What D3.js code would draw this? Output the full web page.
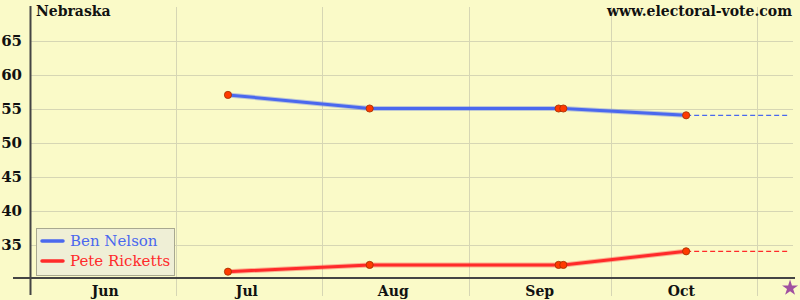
<!DOCTYPE html>
<html>
<head>
<meta charset="utf-8">
<script src="https://cdn.jsdelivr.net/npm/d3@7"></script>
<style>
  body { margin: 0; background: #fafac8; }
  svg { display: block; }
  svg text { font-family: "DejaVu Serif", "Liberation Serif", serif; }
</style>
</head>
<body>
<script>
// poll data, Nebraska senate race
var pollDates = ["2006-07-12", "2006-08-11", "2006-09-20", "2006-09-21", "2006-10-17"];
var nelson    = [57, 55, 55, 55, 54];
var ricketts  = [31, 32, 32, 32, 34];
var candidates = ["Ben Nelson", "Pete Ricketts"];
var electionDay = "2006-11-08";
var monthLabels = ["Jun", "Jul", "Aug", "Sep", "Oct"];
var labelDates  = ["2006-06-16", "2006-07-16", "2006-08-16", "2006-09-16", "2006-10-16"];
var gridDates   = ["2006-07-01", "2006-08-01", "2006-09-01", "2006-10-01", "2006-11-01"];
var yTicks = [35, 40, 45, 50, 55, 60, 65];

var width = 800, height = 300;
var parse = d3.utcParse("%Y-%m-%d");

var svg = d3.select("body").append("svg")
    .attr("width", width)
    .attr("height", height);

svg.append("rect").attr("width", width).attr("height", height).attr("fill", "#fafac8");

// scales (hand tuned to the picture)
var x = d3.scaleUtc()
    .domain([parse("2006-07-01"), parse("2006-11-01")])
    .range([176, 757]);
var y = d3.scaleLinear().domain([30, 65]).range([278.5, 40.5]);

// grid
svg.append("g").selectAll("line").data(yTicks).join("line")
    .attr("x1", 30).attr("x2", 793)
    .attr("y1", d => Math.round(y(d)) + 0.5).attr("y2", d => Math.round(y(d)) + 0.5)
    .attr("stroke", "#d6d6b4").attr("stroke-width", 1);

svg.append("g").selectAll("line").data(gridDates).join("line")
    .attr("x1", d => Math.round(x(parse(d))) + 0.5).attr("x2", d => Math.round(x(parse(d))) + 0.5)
    .attr("y1", 7).attr("y2", 296)
    .attr("stroke", "#d6d6b4").attr("stroke-width", 1);

// axes
svg.append("line").attr("x1", 30.5).attr("x2", 30.5).attr("y1", 6).attr("y2", 295)
    .attr("stroke", "#444").attr("stroke-width", 2);
svg.append("line").attr("x1", 13).attr("x2", 795).attr("y1", y(30) - 0.5).attr("y2", y(30) - 0.5)
    .attr("stroke", "#444").attr("stroke-width", 2);

svg.append("g").selectAll("text").data(yTicks).join("text")
    .attr("x", 22).attr("y", d => y(d) + 5)
    .attr("text-anchor", "end")
    .attr("font-size", 15).attr("font-weight", "bold").attr("fill", "#111")
    .text(d => d);

svg.append("g").selectAll("text").data(monthLabels).join("text")
    .attr("x", (d, i) => x(parse(labelDates[i])))
    .attr("y", 296)
    .attr("text-anchor", "middle")
    .attr("font-size", 14).attr("font-weight", "bold").attr("fill", "#111")
    .text(d => d);

// titles
svg.append("text").attr("x", 36).attr("y", 16)
    .attr("font-size", 14).attr("font-weight", "bold").attr("fill", "#111")
    .text("Nebraska");
svg.append("text").attr("x", 792).attr("y", 16).attr("text-anchor", "end")
    .attr("font-size", 14).attr("font-weight", "bold").attr("fill", "#111")
    .text("www.electoral-vote.com");

// series
var series = [
  {name: candidates[0], values: nelson, color: "#4a68ee"},
  {name: candidates[1], values: ricketts, color: "#ff2a2a"}
];

var line = d3.line()
    .x(d => x(d.date))
    .y(d => y(d.value));

series.forEach(function(s) {
  var pts = pollDates.map((d, i) => ({date: parse(d), value: s.values[i]}));
  var last = pts[pts.length - 1];

  // projection to election day
  svg.append("line")
      .attr("x1", x(last.date)).attr("x2", x(parse(electionDay)))
      .attr("y1", y(last.value)).attr("y2", y(last.value))
      .attr("stroke", s.color).attr("stroke-width", 1.2)
      .attr("stroke-dasharray", "5,3");

  svg.append("path").datum(pts)
      .attr("fill", "none")
      .attr("stroke", s.color).attr("stroke-opacity", 0.35)
      .attr("stroke-width", 5)
      .attr("d", line);
  svg.append("path").datum(pts)
      .attr("fill", "none")
      .attr("stroke", s.color)
      .attr("stroke-width", 3)
      .attr("d", line);

  svg.append("g").selectAll("circle").data(pts).join("circle")
      .attr("cx", d => x(d.date)).attr("cy", d => y(d.value))
      .attr("r", 3.6)
      .attr("fill", "#ff3a00").attr("stroke", "#a03000").attr("stroke-width", 0.8);
});

// election day star
var star = d3.symbol().type(d3.symbolStar).size(80);
svg.append("path")
    .attr("d", star)
    .attr("transform", "translate(" + x(parse(electionDay)) + ",288)")
    .attr("fill", "#a050a0");

// legend
var legend = svg.append("g");
legend.append("rect")
    .attr("x", 36.5).attr("y", 228.5).attr("width", 138).attr("height", 47)
    .attr("fill", "#efefd6").attr("stroke", "#a8a890");
series.forEach(function(s, i) {
  var ly = 241 + i * 20;
  legend.append("line")
      .attr("x1", 42).attr("x2", 63).attr("y1", ly).attr("y2", ly)
      .attr("stroke", s.color).attr("stroke-width", 3.5).attr("stroke-linecap", "round");
  legend.append("text")
      .attr("x", 70).attr("y", ly + 5)
      .attr("font-size", 15).attr("fill", s.color)
      .text(s.name);
});
</script>
</body>
</html>
